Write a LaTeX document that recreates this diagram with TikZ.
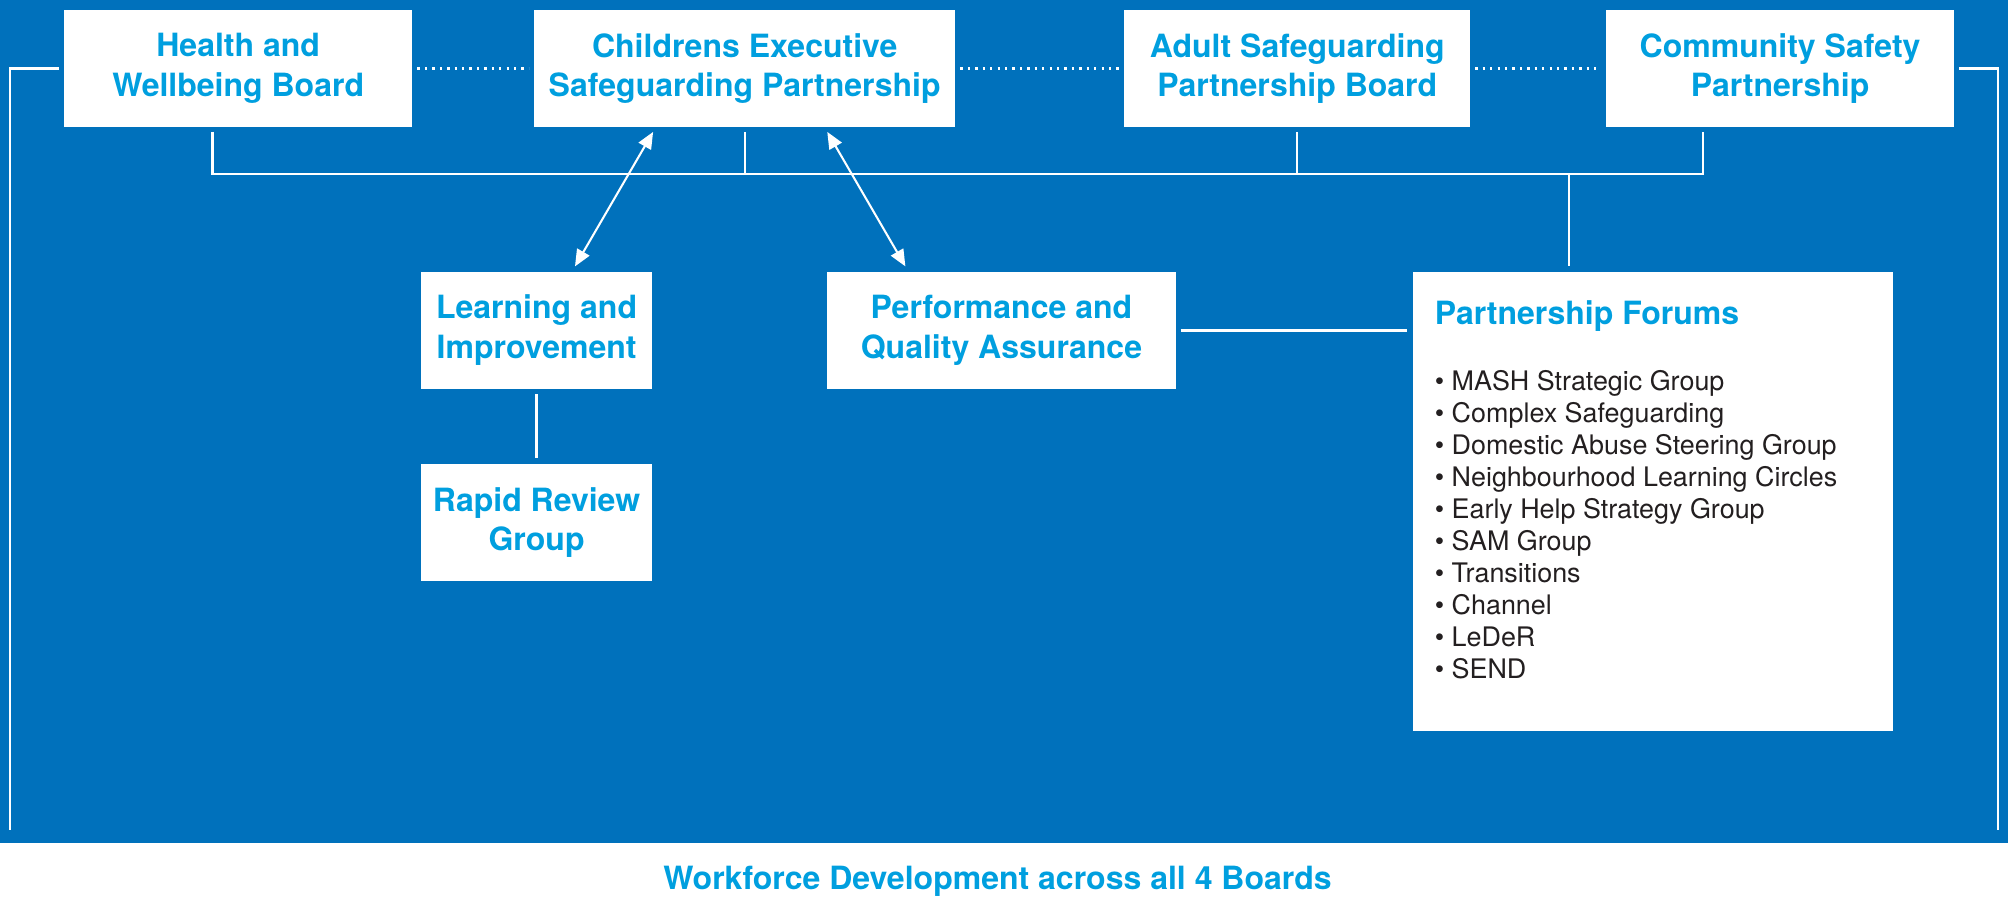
\documentclass[tikz,border=0pt]{standalone}
\usepackage{fontspec}
\setmainfont{TeX Gyre Heros}
\usepackage{tikz}
\usetikzlibrary{arrows.meta,calc,positioning}

\definecolor{boardblue}{RGB}{0,113,188}
\definecolor{titleblue}{RGB}{0,159,223}
\definecolor{listgrey}{RGB}{35,31,32}

\begin{document}
\begin{tikzpicture}[%
x=0.5pt, y=-0.5pt,
>={Triangle[length=6.5pt,width=5.5pt]},
board/.style={fill=white, text=titleblue, font=\bfseries\fontsize{12.5}{15.5}\selectfont,
  align=center, inner sep=0pt, outer sep=2pt, minimum height=45.5pt,
  execute at begin node={\rule{0pt}{12pt}}},
link/.style={draw=white, line width=0.9pt},
dots/.style={draw=white, line width=0.9pt, dotted},
twoway/.style={<->, draw=white, line width=0.8pt}
]
\fill[boardblue] (0,0) rectangle (1568,658);
\useasboundingbox (0,0) rectangle (1568,714);

\node[board, minimum width=136pt] (health) at (186,53.5) {Health and\\Wellbeing Board};
\node[board, minimum width=164.5pt] (childrens) at (581.5,53.5) {Childrens Executive\\Safeguarding Partnership};
\node[board, minimum width=135pt] (adult) at (1013,53.5) {Adult Safeguarding\\Partnership Board};
\node[board, minimum width=136pt] (community) at (1390,53.5) {Community Safety\\Partnership};
\node[board, minimum width=90pt, minimum height=46pt] (learning) at (419,258) {Learning and\\Improvement};
\node[board, minimum width=136pt, minimum height=46pt] (performance) at (782,258) {Performance and\\Quality Assurance};
\node[board, minimum width=90pt, minimum height=46pt, below=25pt of learning] (rapid) {Rapid Review\\Group};
\node[board, minimum width=187.5pt, minimum height=179.5pt] (forums) at (1290.5,391.5) {};
\node[anchor=west, inner sep=0pt, text=titleblue, font=\bfseries\fontsize{12.5}{15.5}\selectfont]
  (forumtitle) at ($(forums.north west)+(21,39)$) {Partnership Forums};
\node[anchor=north west, inner sep=0pt, align=left, text=listgrey, font=\fontsize{10.5}{12.5}\selectfont]
  (forumlist) at ($(forums.north west)+(21,81)$)
  {• MASH Strategic Group\\• Complex Safeguarding\\• Domestic Abuse Steering Group\\
   • Neighbourhood Learning Circles\\• Early Help Strategy Group\\• SAM Group\\
   • Transitions\\• Channel\\• LeDeR\\• SEND};
\node[text=titleblue, font=\bfseries\fontsize{12.5}{15.5}\selectfont] (workforce) at (779,688)
  {Workforce Development across all 4 Boards};

% dotted: the four boards
\path[dots] (health) edge (childrens) (childrens) edge (adult) (adult) edge (community);

% frame round all 4 boards
\coordinate (frameL) at (8,648);
\coordinate (frameR) at (1560,648);
\draw[link] (health.west) -| (frameL);
\draw[link] (community.east) -| (frameR);

% bus under the boards
\coordinate (busL) at (166,136);
\coordinate (busR) at (1330,136);
\coordinate (busF) at (1225,136);
\draw[link] (health.south -| busL) -- (busL) -- (busR) -- (community.south -| busR);
\draw[link] (childrens.south) -- (childrens.south |- busL);
\draw[link] (adult.south) -- (adult.south |- busL);
\draw[link] (busF) -- (busF |- forums.north);

% sub groups
\draw[link] (learning) -- (rapid);
\draw[link] (performance) -- (performance -| forums.west);
\draw[twoway] ($(childrens.south)+(-71.5,0)$) -- ($(learning.north)+(30,0)$);
\draw[twoway] ($(childrens.south)+(64.5,0)$) -- ($(performance.north)+(-75,0)$);
\end{tikzpicture}
\end{document}
